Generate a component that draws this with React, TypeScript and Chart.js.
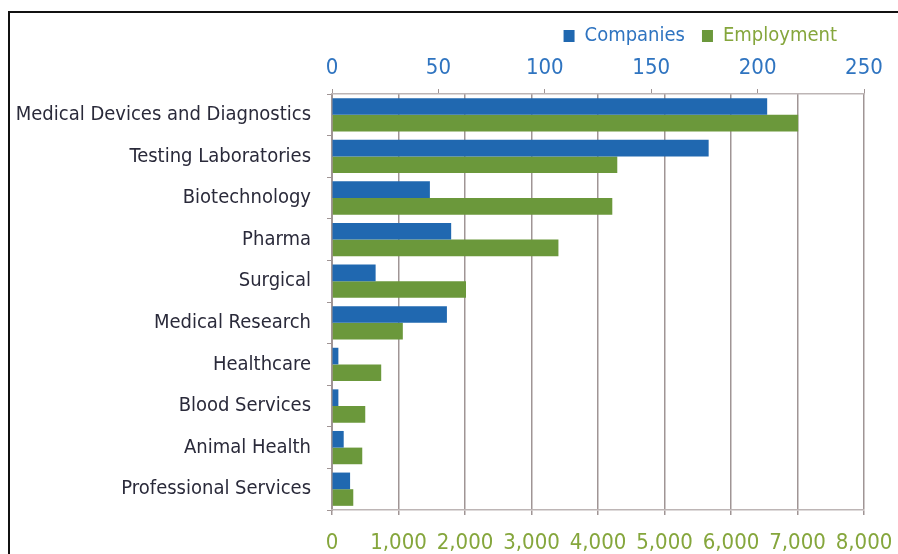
import React, { useEffect, useRef } from "react";
import { Chart, registerables } from "chart.js";

Chart.register(...registerables);

const categories = [
  "Medical Devices and Diagnostics",
  "Testing Laboratories",
  "Biotechnology",
  "Pharma",
  "Surgical",
  "Medical Research",
  "Healthcare",
  "Blood Services",
  "Animal Health",
  "Professional Services",
];
const companies = [204.5, 177, 46, 56, 20.5, 54, 3, 3, 5.5, 8.5];
const employment = [7010, 4290, 4215, 3405, 2015, 1065, 740, 500, 455, 320];
const companyTicks = [0, 50, 100, 150, 200, 250];
const employmentTicks = [0, 1000, 2000, 3000, 4000, 5000, 6000, 7000, 8000];

const FONT = "'Liberation Sans Narrow', 'DejaVu Sans Condensed', 'Roboto Condensed', sans-serif";
const BLUE = "#2068b0";
const GREEN = "#6b983b";
const BLUE_TEXT = "#2f74c0";
const GREEN_TEXT = "#85a63c";
const LABEL = "#2a2a3a";
const GRID = "#a09595";

const legendShift = {
  id: "legendShift",
  afterLayout(chart: any) {
    if (chart.legend) chart.legend.right -= 10;
  },
};

export default function App() {
  const ref = useRef<HTMLCanvasElement>(null);
  useEffect(() => {
    if (!ref.current) return;
    const chart = new Chart(ref.current, {
      type: "bar",
      plugins: [legendShift],
      data: {
        labels: categories,
        datasets: [
          {
            label: "Companies",
            data: companies,
            backgroundColor: BLUE,
            xAxisID: "x2",
            barPercentage: 1,
            categoryPercentage: 0.8,
          },
          {
            label: "Employment",
            data: employment,
            backgroundColor: GREEN,
            xAxisID: "x",
            barPercentage: 1,
            categoryPercentage: 0.8,
          },
        ],
      },
      options: {
        indexAxis: "y",
        animation: false,
        responsive: false,
        layout: { padding: { top: 9, right: 34, left: 0, bottom: 0 } },
        plugins: {
          tooltip: { enabled: false },
          legend: {
            position: "top",
            align: "end",
            labels: {
              boxWidth: 11,
              boxHeight: 12,
              padding: 17,
              font: { family: FONT, size: 20 },
              generateLabels: (c: any) => {
                const items = Chart.defaults.plugins.legend.labels.generateLabels(c);
                items.forEach((it: any, i: number) => {
                  it.fontColor = i === 0 ? BLUE_TEXT : GREEN_TEXT;
                  it.lineWidth = 0;
                });
                return items;
              },
            },
          },
        },
        scales: {
          y: {
            afterFit: (s: any) => {
              s.width = 332;
              s.paddingTop = 0;
              s.paddingBottom = 0;
            },
            grid: { drawOnChartArea: false, tickLength: 5, color: GRID },
            border: { color: GRID },
            ticks: { color: LABEL, padding: 16, font: { family: FONT, size: 20 } },
          },
          x: {
            position: "bottom",
            min: 0,
            max: 8000,
            afterBuildTicks: (s: any) => {
              s.ticks = employmentTicks.map((v) => ({ value: v }));
            },
            afterFit: (s: any) => {
              s.height = 44;
              s.paddingLeft = 0;
              s.paddingRight = 0;
            },
            grid: { color: GRID, lineWidth: 1.5, tickLength: 5 },
            border: { color: "#bdb5b5", width: 1.5 },
            ticks: {
              color: GREEN_TEXT,
              padding: 15,
              maxRotation: 0,
              autoSkip: false,
              font: { family: FONT, size: 22 },
              callback: (v: any) => Number(v).toLocaleString("en-US"),
            },
          },
          x2: {
            position: "top",
            min: 0,
            max: 250,
            afterBuildTicks: (s: any) => {
              s.ticks = companyTicks.map((v) => ({ value: v }));
            },
            afterFit: (s: any) => {
              s.height = 38;
              s.paddingLeft = 0;
              s.paddingRight = 0;
            },
            grid: { drawOnChartArea: false, color: GRID, tickLength: 5 },
            border: { color: "#bdb5b5", width: 1.5 },
            ticks: {
              color: BLUE_TEXT,
              padding: 8,
              maxRotation: 0,
              autoSkip: false,
              font: { family: FONT, size: 22 },
              callback: (v: any) => String(v),
            },
          },
        },
      },
    });
    return () => chart.destroy();
  }, []);

  return (
    <div>
      <div
        style={{
          position: "fixed",
          left: 8,
          top: 11,
          width: 900,
          height: 600,
          border: "2px solid #111",
          boxSizing: "border-box",
        }}
      />
      <canvas
        ref={ref}
        width={898}
        height={554}
        style={{ position: "fixed", left: 0, top: 0, width: 898, height: 554 }}
      />
    </div>
  );
}
